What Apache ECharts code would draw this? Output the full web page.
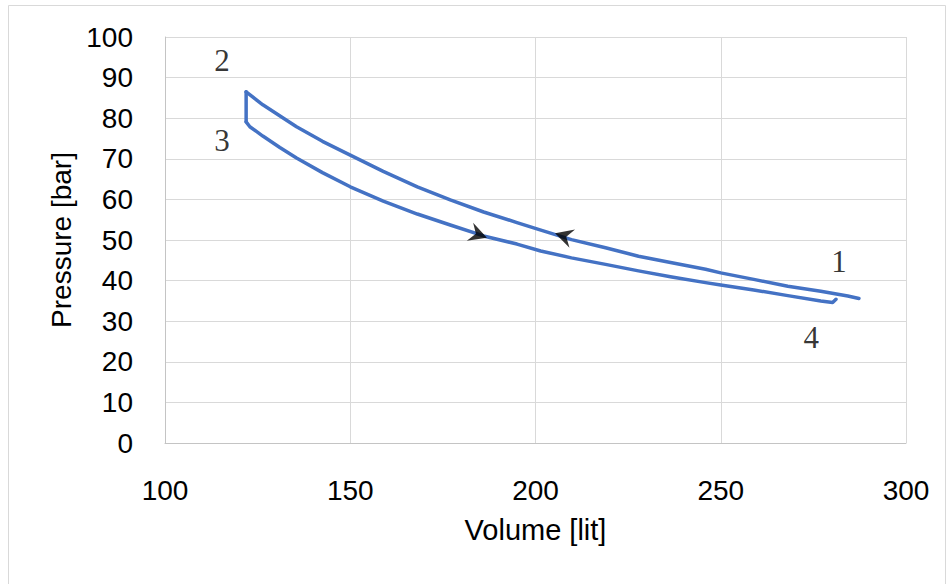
<!DOCTYPE html>
<html>
<head>
<meta charset="utf-8">
<script src="https://cdn.jsdelivr.net/npm/echarts@6/dist/echarts.min.js"></script>
<style>
    html, body { margin: 0; padding: 0; background: #fff; }
    #chart { width: 950px; height: 584px; }
</style>
</head>
<body>
<div id="chart"></div>
<script>
// compression 1 -> 2 (upper branch)
const compVolume = [287.3, 284.3, 277, 268.1, 258.9, 250, 245.9, 236.8, 227.8, 218.9, 209.7, 200.8, 195, 186, 177, 168.1, 158.9, 150, 142.5, 135.5, 126.4, 121.9];
const compPressure = [35.6, 36.2, 37.4, 38.6, 40.3, 41.9, 42.8, 44.4, 46.0, 48.1, 50.1, 52.6, 54.3, 56.9, 59.9, 63.1, 66.9, 70.9, 74.3, 77.9, 83.3, 86.5];

// 2 -> 3 drop at constant volume
const dropVolume = [121.9, 121.9];
const dropPressure = [86.5, 79.1];

// expansion 3 -> 4 (lower branch)
const expVolume = [121.9, 122.9, 126.4, 131, 135.5, 142.5, 150, 158.9, 168.1, 177, 186, 195, 201.4, 209.7, 218.9, 227.8, 236.8, 245.9, 250, 258.9, 268.1, 277, 280.2, 281.1];
const expPressure = [79.1, 77.9, 75.6, 72.8, 70.2, 66.6, 63.1, 59.6, 56.4, 53.7, 51.0, 49.0, 47.3, 45.6, 44.0, 42.4, 40.9, 39.5, 38.9, 37.7, 36.3, 35.0, 34.6, 35.4];

// state point labels
const stateNames = ['1', '2', '3', '4'];
const stateVolume = [281.9, 115.4, 115.4, 274.4];
const statePressure = [44.8, 94.3, 74.6, 26.1];

// direction arrows
const arrowVolume = [184.6, 207.6];
const arrowPressure = [51.3, 51.0];
const arrowAngle = [-19.5, 163];

const zip = (xs, ys) => xs.map((x, i) => [x, ys[i]]);

const lineColor = '#4472C4';
const axisFont = 'Liberation Sans, Arial, sans-serif';

let chart = echarts.init(document.getElementById('chart'), null, {renderer: 'svg'});

let lineSeries = (data) => ({
    type: 'line',
    data: data,
    showSymbol: false,
    symbol: 'none',
    smooth: false,
    lineStyle: { color: lineColor, width: 3.5, join: 'round', cap: 'round' },
    animation: false,
    z: 3
});

let option = {
    animation: false,
    backgroundColor: '#fff',
    graphic: [
        {
            type: 'rect',
            shape: { x: 8.5, y: 5.5, width: 937, height: 620 },
            style: { fill: 'none', stroke: '#d9d9d9', lineWidth: 1 },
            silent: true
        }
    ],
    grid: { left: 165, right: 44, top: 37, bottom: 141 },
    xAxis: {
        type: 'value',
        min: 100,
        max: 300,
        interval: 50,
        name: 'Volume [lit]',
        nameLocation: 'middle',
        nameGap: 72,
        nameTextStyle: { fontSize: 29, color: '#000', fontFamily: axisFont },
        axisLine: { show: true, lineStyle: { color: '#c4c4c4', width: 1 } },
        axisTick: { show: false },
        axisLabel: { fontSize: 28, color: '#000', fontFamily: axisFont, margin: 33 },
        splitLine: { show: true, lineStyle: { color: '#d9d9d9', width: 1 } }
    },
    yAxis: {
        type: 'value',
        min: 0,
        max: 100,
        interval: 10,
        name: 'Pressure [bar]',
        nameLocation: 'middle',
        nameGap: 90,
        nameTextStyle: { fontSize: 28, color: '#000', fontFamily: axisFont },
        axisLine: { show: true, lineStyle: { color: '#c4c4c4', width: 1 } },
        axisTick: { show: false },
        axisLabel: { fontSize: 28, color: '#000', fontFamily: axisFont, margin: 32 },
        splitLine: { show: true, lineStyle: { color: '#d9d9d9', width: 1 } }
    },
    series: [
        lineSeries(zip(compVolume, compPressure)),
        lineSeries(zip(dropVolume, dropPressure)),
        lineSeries(zip(expVolume, expPressure)),
        {
            type: 'scatter',
            data: arrowVolume.map((v, i) => ({
                value: [v, arrowPressure[i]],
                symbolRotate: arrowAngle[i]
            })),
            symbol: 'path://M0,0 L10,5 L0,10 L3.5,5 Z',
            symbolSize: [18, 19],
            itemStyle: { color: '#000' },
            z: 5
        },
        {
            type: 'scatter',
            data: stateNames.map((n, i) => ({ name: n, value: [stateVolume[i], statePressure[i]] })),
            symbolSize: 0,
            label: {
                show: true,
                position: 'inside',
                formatter: p => p.name,
                fontSize: 31,
                color: '#000',
                fontFamily: 'Liberation Serif, Times New Roman, serif'
            },
            z: 6
        }
    ]
};

option && chart.setOption(option);
</script>
</body>
</html>
